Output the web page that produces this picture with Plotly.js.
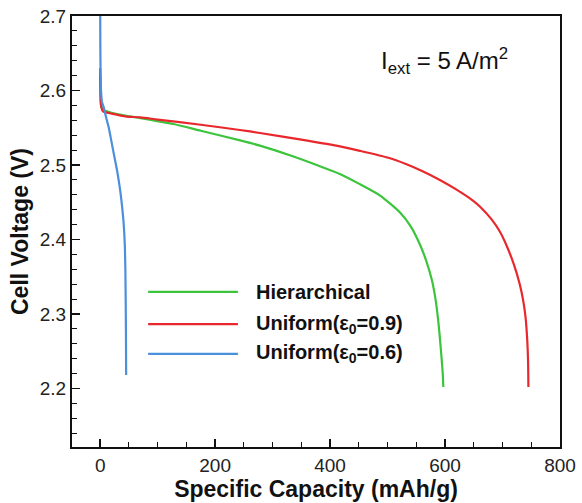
<!DOCTYPE html>
<html>
<head>
<meta charset="utf-8">
<script src="https://cdn.plot.ly/plotly-3.0.1.min.js"></script>
<style>html,body{margin:0;padding:0;background:#fff;}#chart{width:582px;height:503px;}</style>
</head>
<body>
<div id="chart"></div>
<script>
// Specific capacity (mAh/g) and cell voltage (V)
const seriesNames = ["Hierarchical", "Uniform(ε<sub>0</sub>=0.9)", "Uniform(ε<sub>0</sub>=0.6)"];

const hierCap = [0, 0.5, 1, 2, 5, 20, 46, 70, 127.5, 175, 243.5, 278, 330, 380, 417, 450, 487, 522, 540, 556.5, 567, 577, 583, 588, 593, 596, 597];
const hierV   = [2.62, 2.60, 2.585, 2.578, 2.574, 2.570, 2.566, 2.563, 2.555, 2.546, 2.533, 2.526, 2.513, 2.499, 2.488, 2.475, 2.459, 2.436, 2.418, 2.393, 2.372, 2.346, 2.322, 2.292, 2.25, 2.22, 2.202];

const uni09Cap = [0, 0.5, 1, 2, 5, 20, 46, 70, 100, 175, 243, 278, 350, 417, 452, 500, 533, 560, 591, 620, 649, 661, 681, 695, 707, 720, 730, 736, 740, 743, 744.5, 745];
const uni09V   = [2.63, 2.60, 2.585, 2.578, 2.572, 2.569, 2.565, 2.564, 2.561, 2.554, 2.547, 2.543, 2.534, 2.525, 2.519, 2.510, 2.501, 2.492, 2.480, 2.467, 2.452, 2.444, 2.427, 2.411, 2.392, 2.366, 2.340, 2.318, 2.296, 2.265, 2.235, 2.202];

const uni06Cap = [0, 0.3, 0.8, 1.5, 3, 6, 10, 15, 20, 25, 30, 35, 38, 41, 43, 44, 44.8, 45.2];
const uni06V   = [2.72, 2.66, 2.62, 2.60, 2.585, 2.578, 2.565, 2.55, 2.53, 2.51, 2.49, 2.465, 2.445, 2.42, 2.39, 2.35, 2.28, 2.218];

const colors = ["#3cc43c", "#e8282c", "#4a90dc"];

const xTicks = [0, 200, 400, 600, 800];
const yTicks = [2.2, 2.3, 2.4, 2.5, 2.6, 2.7];

const lineStyle = (c) => ({color: c, width: 2.2, shape: "spline", smoothing: 0.6});
const traces = [
  {x: hierCap, y: hierV, name: seriesNames[0], mode: "lines", line: lineStyle(colors[0])},
  {x: uni09Cap, y: uni09V, name: seriesNames[1], mode: "lines", line: lineStyle(colors[1])},
  {x: uni06Cap, y: uni06V, name: seriesNames[2], mode: "lines", line: lineStyle(colors[2])}
];

// legend drawn as paper-positioned decoration
const legY = [0.360, 0.285, 0.216];
const shapes = legY.map((yy, i) => ({
  type: "line", xref: "paper", yref: "paper",
  x0: 0.156, x1: 0.340, y0: yy, y1: yy,
  line: {color: colors[i], width: 2.2}
}));
const annotations = legY.map((yy, i) => ({
  xref: "paper", yref: "paper", x: 0.372, y: yy,
  xanchor: "left", yanchor: "middle", showarrow: false,
  text: "<b>" + seriesNames[i] + "</b>",
  font: {family: "Liberation Sans, Arial, sans-serif", size: 20, color: "#111"}
}));
annotations.push({
  xref: "paper", yref: "paper", x: 0.63, y: 0.895,
  xanchor: "left", yanchor: "middle", showarrow: false,
  text: "I<sub>ext</sub> = 5 A/m<sup>2</sup>",
  font: {family: "Liberation Sans, Arial, sans-serif", size: 24, color: "#111"}
});

const axisCommon = {
  showgrid: false, zeroline: false,
  showline: true, linecolor: "#111", linewidth: 2, mirror: true,
  ticks: "inside", ticklen: 8, tickwidth: 1.5, tickcolor: "#111",
  tickfont: {family: "Liberation Sans, Arial, sans-serif", size: 19, color: "#222"}
};

const layout = {
  width: 582, height: 503,
  margin: {l: 72, r: 22, t: 16, b: 56},
  paper_bgcolor: "#fff", plot_bgcolor: "#fff",
  showlegend: false,
  xaxis: Object.assign({}, axisCommon, {
    range: [-49, 800], tickvals: xTicks, ticktext: xTicks.map(String),
    minor: {dtick: 50, tick0: 0, ticks: "inside", ticklen: 5, tickcolor: "#111", tickwidth: 1},
    title: {text: "<b>Specific Capacity (mAh/g)</b>", standoff: 3,
      font: {family: "Liberation Sans, Arial, sans-serif", size: 23, color: "#111"}}
  }),
  yaxis: Object.assign({}, axisCommon, {
    range: [2.1215, 2.7], tickvals: yTicks, ticktext: yTicks.map(v => v.toFixed(1)),
    minor: {dtick: 0.02, tick0: 2.2, ticks: "inside", ticklen: 5, tickcolor: "#111", tickwidth: 1},
    title: {text: "<b>Cell Voltage (V)</b>", standoff: 5,
      font: {family: "Liberation Sans, Arial, sans-serif", size: 23, color: "#111"}}
  }),
  shapes: shapes,
  annotations: annotations
};

Plotly.newPlot("chart", traces, layout, {staticPlot: true, displayModeBar: false});
</script>
</body>
</html>
